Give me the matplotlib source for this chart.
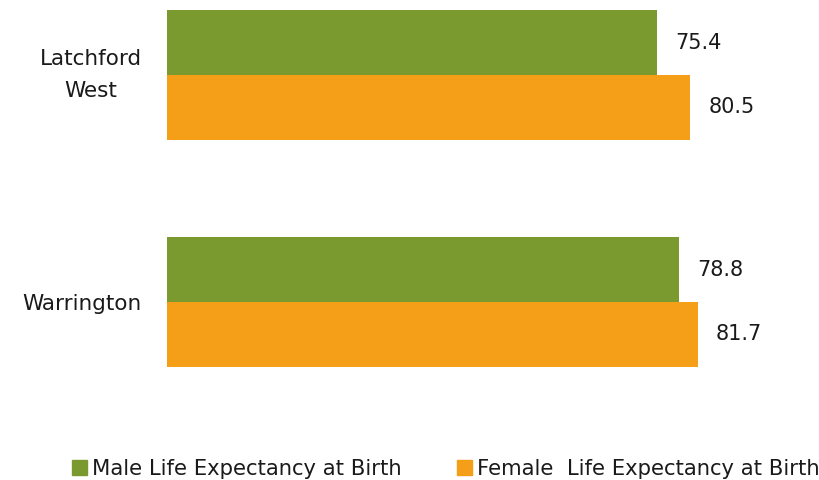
import matplotlib
matplotlib.use("Agg")
import matplotlib.pyplot as plt
import numpy as np
from matplotlib.patches import Patch

categories = ["Latchford\nWest", "Warrington"]
male = [75.4, 78.8]
female = [80.5, 81.7]
series_names = ["Male Life Expectancy at Birth", "Female  Life Expectancy at Birth"]
colors = ["#7A9A2F", "#F59E17"]
text_color = "#1a1a1a"

W, H = 820, 480
fig = plt.figure(figsize=(W / 100, H / 100), dpi=100)
ax_left, ax_right, ax_top, ax_bottom = 167, 820, 0, 420
ax = fig.add_axes([ax_left / W, 1 - ax_bottom / H, (ax_right - ax_left) / W, (ax_bottom - ax_top) / H])

ypos = np.array([1.0, 0.0])
bh = 0.286
px_per_unit = 6.5
ax.barh(ypos + bh / 2, male, height=bh, color=colors[0], label=series_names[0])
ax.barh(ypos - bh / 2, female, height=bh, color=colors[1], label=series_names[1])

for y, v in zip(ypos + bh / 2, male):
    ax.annotate(f"{v:.1f}", (v, y), xytext=(13, 0), textcoords="offset points",
                va="center", ha="left", fontsize=15, color=text_color)
for y, v in zip(ypos - bh / 2, female):
    ax.annotate(f"{v:.1f}", (v, y), xytext=(13, 0), textcoords="offset points",
                va="center", ha="left", fontsize=15, color=text_color)

ax.set_xlim(0, (ax_right - ax_left) / px_per_unit)
ax.set_ylim(-118 / 227, 1 + 75 / 227)
ax.set_yticks(ypos)
ax.set_yticklabels(categories, fontsize=15.5, color=text_color, linespacing=1.75)
for lab in ax.get_yticklabels():
    lab.set_multialignment("center")
    if "\n" in lab.get_text():
        lab.set_va("center")
ax.tick_params(axis="y", length=0, pad=18)
ax.set_xticks([])
for s in ax.spines.values():
    s.set_visible(False)

handles = [Patch(color=colors[0]), Patch(color=colors[1])]
fig.legend(handles, series_names, loc="center", bbox_to_anchor=(446 / W, 1 - 469 / H),
           ncol=2, frameon=False, fontsize=15.2, handlelength=0.7, handleheight=0.7,
           handletextpad=0.25, columnspacing=2.6, labelcolor=text_color)

fig.savefig("out.png", dpi=100)
